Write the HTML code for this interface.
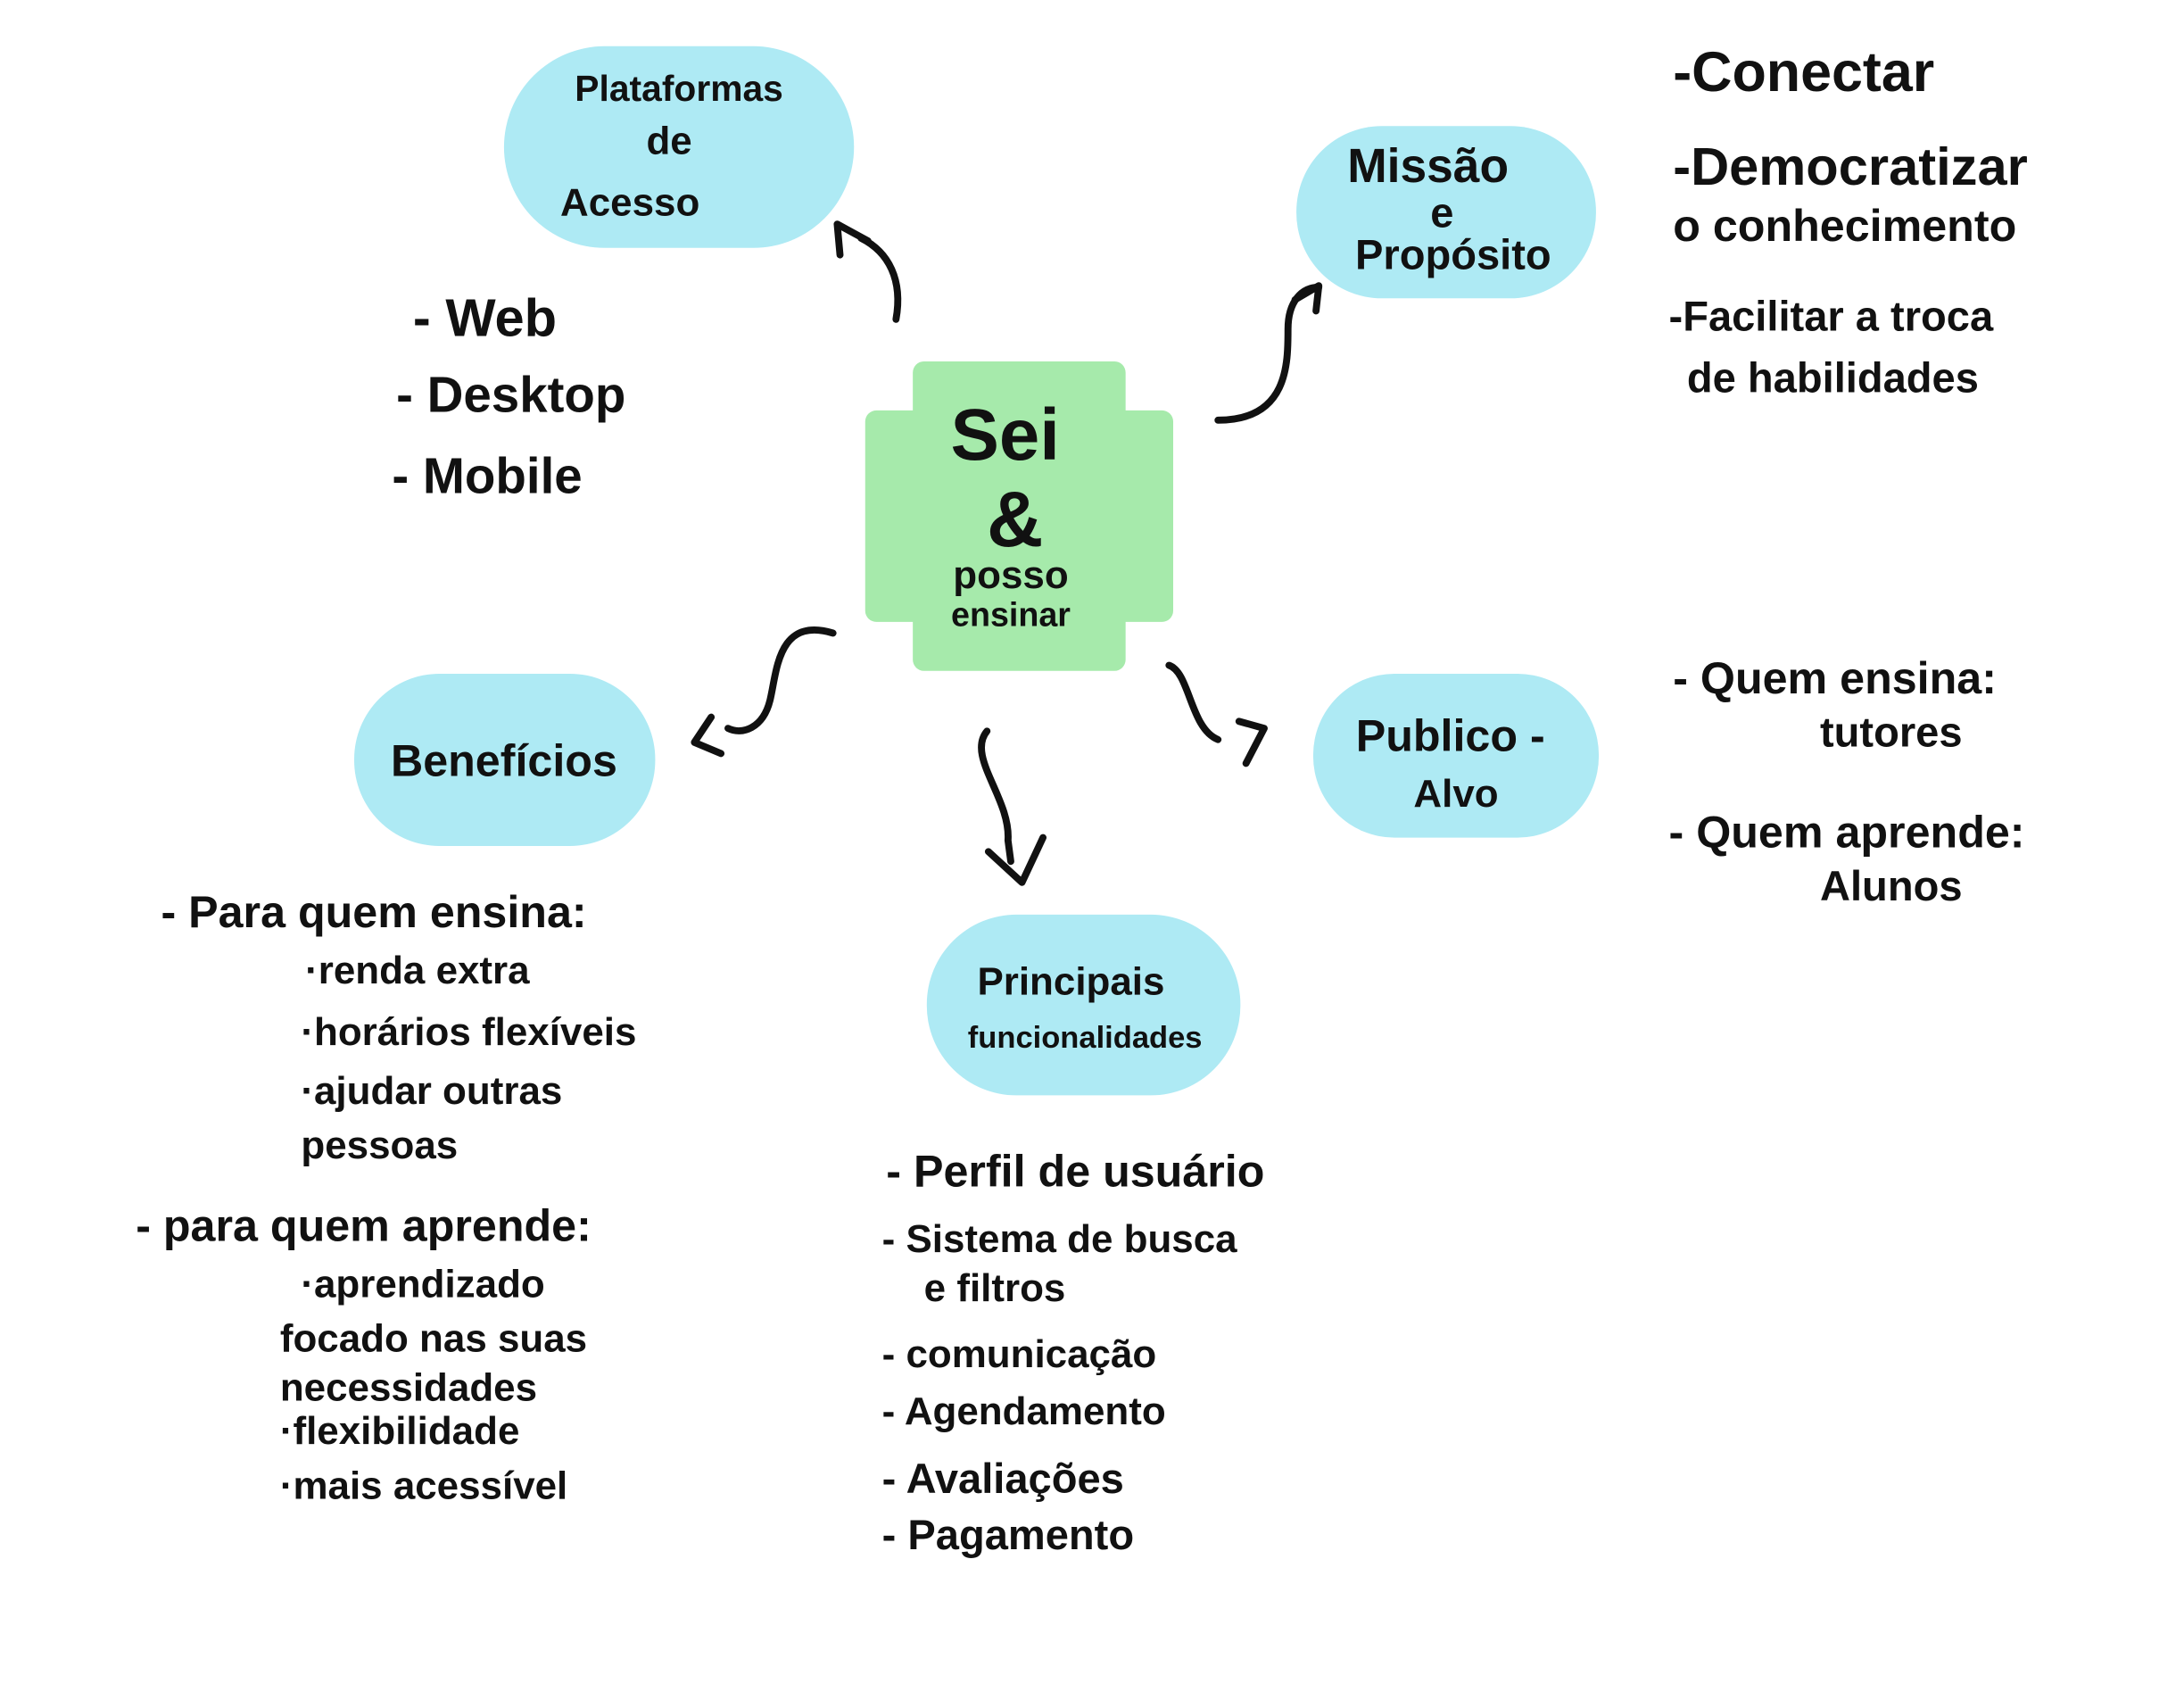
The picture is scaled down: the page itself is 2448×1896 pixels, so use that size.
<!DOCTYPE html>
<html><head><meta charset="utf-8"><style>
html,body{margin:0;padding:0;background:#fff;width:2448px;height:1896px;overflow:hidden}
svg{display:block}
text{font-family:"Liberation Sans",sans-serif;font-weight:bold;fill:#111}
</style></head><body>
<svg width="2448" height="1896" viewBox="0 0 1560 1208" preserveAspectRatio="none">
<g fill="#aeeaf4">
<rect x="360" y="33" width="250" height="144" rx="72"/>
<rect x="926" y="90" width="214" height="123" rx="61"/>
<rect x="253" y="481" width="215" height="123" rx="61"/>
<rect x="938" y="481" width="204" height="117" rx="58"/>
<rect x="662" y="653" width="224" height="129" rx="64"/>
</g>
<g fill="#a6eaab">
<rect x="652" y="258" width="152" height="221" rx="8"/>
<rect x="618" y="293" width="220" height="151" rx="8"/>
</g>
<g fill="none" stroke="#111" stroke-width="5" stroke-linecap="round" stroke-linejoin="round">
<path d="M640,228 C645,200 635,180 615,170"/>
<path d="M600,182 L598,160 L620,172"/>
<path d="M870,300 C920,300 920,260 920,235 C920,215 930,205 942,205"/>
<path d="M925,214 L942,204 L940,222"/>
<path d="M595,452 C555,440 555,480 550,500 C545,520 530,525 520,520"/>
<path d="M508,512 L496,530 L515,538"/>
<path d="M705,522 C690,540 722,570 720,600 L722,615"/>
<path d="M706,608 L730,630 L745,598"/>
<path d="M835,475 C850,480 850,520 870,528"/>
<path d="M885,515 L903,520 L890,545"/>
</g>
<g text-anchor="middle">
<text x="485" y="72" font-size="26">Plataformas</text>
<text x="478" y="110" font-size="28">de</text>
<text x="450" y="154" font-size="28">Acesso</text>
<text x="1020" y="130" font-size="34">Missão</text>
<text x="1030" y="162" font-size="30">e</text>
<text x="1038" y="192" font-size="30">Propósito</text>
<text x="718" y="328" font-size="52">Sei</text>
<text x="725" y="390" font-size="56">&amp;</text>
<text x="722" y="420" font-size="28">posso</text>
<text x="722" y="447" font-size="24">ensinar</text>
<text x="360" y="554" font-size="32">Benefícios</text>
<text x="1036" y="536" font-size="32">Publico -</text>
<text x="1040" y="576" font-size="28">Alvo</text>
<text x="765" y="710" font-size="28">Principais</text>
<text x="775" y="748" font-size="22">funcionalidades</text>
</g>
<g font-size="34">
<text x="1195" y="65" font-size="40">-Conectar</text>
<text x="1195" y="132" font-size="38">-Democratizar</text>
<text x="1195" y="172" font-size="32">o conhecimento</text>
<text x="1192" y="236" font-size="30">-Facilitar a troca</text>
<text x="1205" y="280" font-size="30">de habilidades</text>
<text x="295" y="240" font-size="38">- Web</text>
<text x="283" y="294" font-size="36">- Desktop</text>
<text x="280" y="352" font-size="36">- Mobile</text>
<text x="1195" y="495" font-size="32">- Quem ensina:</text>
<text x="1300" y="533" font-size="30">tutores</text>
<text x="1192" y="605" font-size="32">- Quem aprende:</text>
<text x="1300" y="643" font-size="30">Alunos</text>
<text x="115" y="662" font-size="32">- Para quem ensina:</text>
<text x="218" y="702" font-size="28">·renda extra</text>
<text x="215" y="746" font-size="28">·horários flexíveis</text>
<text x="215" y="788" font-size="28">·ajudar outras</text>
<text x="215" y="827" font-size="28">pessoas</text>
<text x="97" y="886" font-size="32">- para quem aprende:</text>
<text x="215" y="926" font-size="28">·aprendizado</text>
<text x="200" y="965" font-size="28">focado nas suas</text>
<text x="200" y="1000" font-size="28">necessidades</text>
<text x="200" y="1031" font-size="28">·flexibilidade</text>
<text x="200" y="1070" font-size="28">·mais acessível</text>
<text x="633" y="847" font-size="32">- Perfil de usuário</text>
<text x="630" y="894" font-size="28">- Sistema de busca</text>
<text x="660" y="929" font-size="28">e filtros</text>
<text x="630" y="976" font-size="28">- comunicação</text>
<text x="630" y="1017" font-size="28">- Agendamento</text>
<text x="630" y="1066" font-size="30">- Avaliações</text>
<text x="630" y="1106" font-size="30">- Pagamento</text>
</g>
</svg>
</body></html>
